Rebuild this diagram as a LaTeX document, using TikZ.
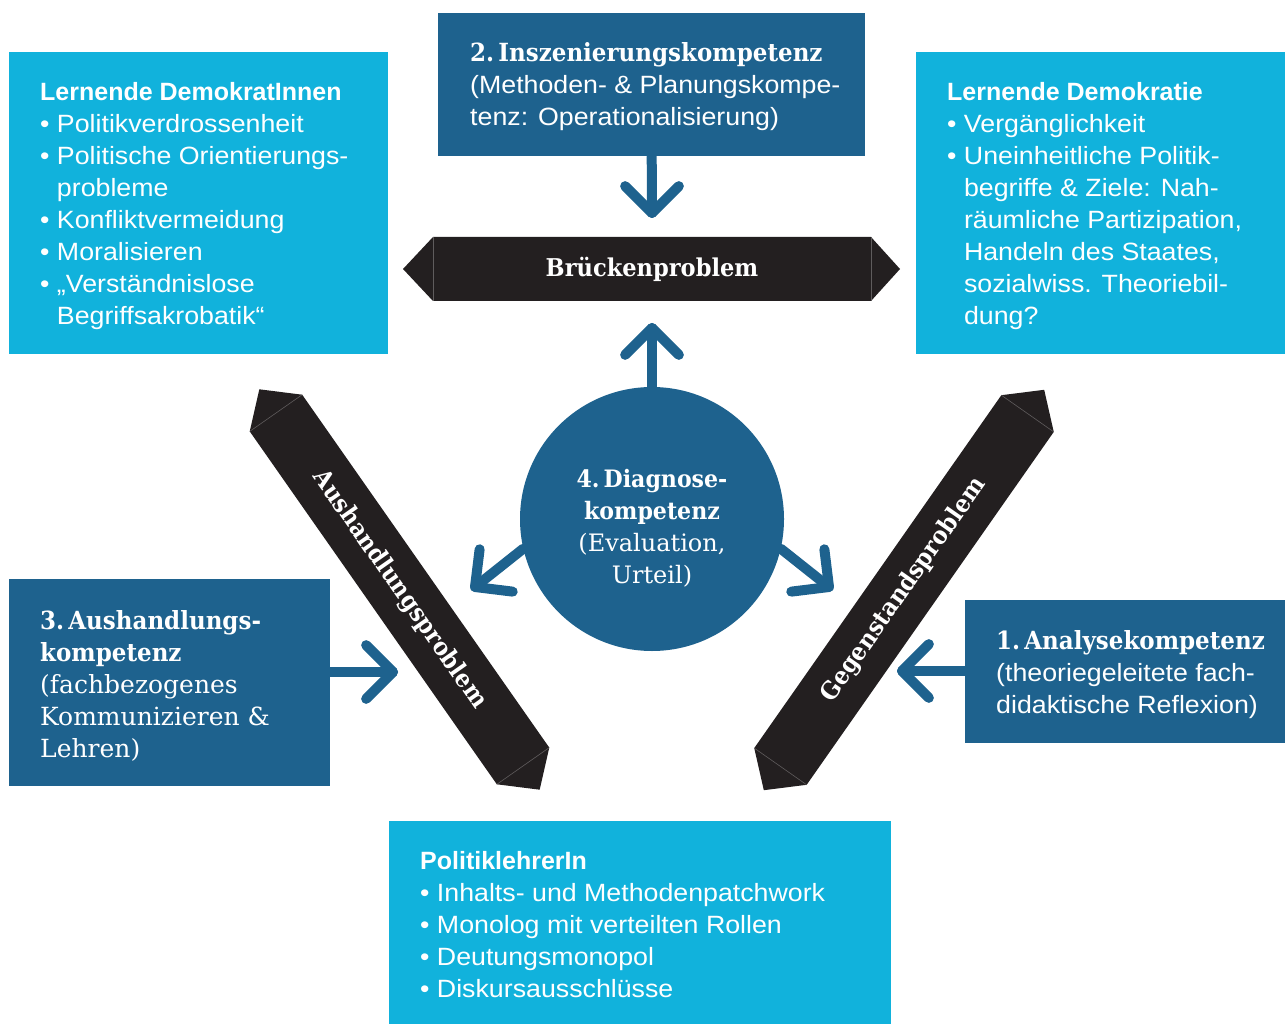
\documentclass[tikz,border=0pt]{standalone}
\usepackage{fontspec}
\setmainfont{Liberation Sans}[FakeStretch=1.07, BoldFeatures={FakeStretch=1.0}]
\newfontfamily\slab{DejaVu Serif}[BoldFeatures={FakeStretch=0.92}]
\usetikzlibrary{calc}

\definecolor{cyanbox}{RGB}{17,178,220}
\definecolor{navy}{RGB}{30,98,142}
\definecolor{ink}{RGB}{35,31,32}
\definecolor{foldgrey}{RGB}{95,92,93}

% chevron head: tip coordinate, direction pointing back along the shaft
\newcommand\drawchev[2]{%
  \draw[conn] ($(#1)+(#2+45:38)$) -- (#1) -- ($(#1)+(#2-45:38)$);}
\newcommand\bul{\textbullet\ }
\newcommand\ind{\phantom{\textbullet\ }}

\tikzset{
  lightbox/.style={fill=cyanbox, inner sep=0pt, anchor=north west},
  darkbox/.style={fill=navy, inner sep=0pt, anchor=north west},
  txt/.style={text=white, inner sep=0pt, anchor=west, align=left,
    font=\fontsize{25}{32}\selectfont},
  conn/.style={draw=navy, line width=10pt, line cap=round, line join=round},
  bar/.style={fill=ink},
  fold/.style={draw=foldgrey, line width=0.6pt},
  bartext/.style={text=white, inner sep=0pt,
    font=\slab\bfseries\fontsize{24.5}{28}\selectfont},
}

\begin{document}
\begin{tikzpicture}[x=1pt,y=-1pt]
\useasboundingbox (0,0) rectangle (1285,1024);

% ---------- boxes ----------
\node[lightbox, minimum width=379, minimum height=302] (demI) at (9,52) {};
\node[darkbox, minimum width=427, minimum height=143] (insz) at (438,13) {};
\node[lightbox, minimum width=369, minimum height=302] (demo) at (916,52) {};
\node[darkbox, minimum width=321, minimum height=207] (aush) at (9,579) {};
\node[darkbox, minimum width=320, minimum height=143] (anal) at (965,600) {};
\node[lightbox, minimum width=502, minimum height=203] (lehr) at (389,821) {};

\node[txt] (demIt) at ($(demI.west)+(31,2.5)$) {%
  \textbf{Lernende DemokratInnen}\\
  \bul Politikverdrossenheit\\
  \bul Politische Orientierungs-\\
  \ind probleme\\
  \bul Konfliktvermeidung\\
  \bul Moralisieren\\
  \bul „Verständnislose\\
  \ind Begriffsakrobatik“};

\node[txt] (demot) at ($(demo.west)+(31,2.5)$) {%
  \textbf{Lernende Demokratie}\\
  \bul Vergänglichkeit\\
  \bul Uneinheitliche Politik-\\
  \ind begriffe \& Ziele: Nah-\\
  \ind räumliche Partizipation,\\
  \ind Handeln des Staates,\\
  \ind sozialwiss. Theoriebil-\\
  \ind dung?};

\node[txt] (inszt) at ($(insz.west)+(32,2)$) {%
  {\slab\bfseries 2.\,Inszenierungskompetenz}\\
  (Methoden- \& Planungskompe-\\
  tenz: Operationalisierung)};

\node[txt] (ausht) at ($(aush.west)+(31,3)$) {%
  {\slab\bfseries 3.\,Aushandlungs-}\\
  {\slab\bfseries kompetenz}\\
  {\slab (fachbezogenes}\\
  {\slab Kommunizieren \&}\\
  {\slab Lehren)}};

\node[txt] (analt) at ($(anal.west)+(31,2.5)$) {%
  {\slab\bfseries 1.\,Analysekompetenz}\\
  (theoriegeleitete fach-\\
  didaktische Reflexion)};

\node[txt] (lehrt) at ($(lehr.west)+(31,2)$) {%
  \textbf{PolitiklehrerIn}\\
  \bul Inhalts- und Methodenpatchwork\\
  \bul Monolog mit verteilten Rollen\\
  \bul Deutungsmonopol\\
  \bul Diskursausschlüsse};

% ---------- problem bars ----------
\fill[bar] (403,269) -- (433,237) -- (871,237) -- (900,269) -- (871,301) -- (433,301) -- cycle;
\draw[fold] (433,237) -- (433,301);
\draw[fold] (871,237) -- (871,301);
\node[bartext] (bruecke) at (652,269) {Brückenproblem};

\begin{scope}[shift={(399.5,589.5)}, rotate=-55]
  \fill[bar] (-244.4,0) -- (-215.4,-32) -- (215.4,-32) -- (244.4,0) -- (215.4,32) -- (-215.4,32) -- cycle;
  \draw[fold] (-215.4,-32) -- (-215.4,32);
  \draw[fold] (215.4,-32) -- (215.4,32);
\end{scope}
\node[bartext, rotate=-55] (aushbar) at (399.5,589.5) {Aushandlungsproblem};

\begin{scope}[shift={(904,590)}, rotate=55]
  \fill[bar] (-244.4,0) -- (-215.4,-32) -- (215.4,-32) -- (244.4,0) -- (215.4,32) -- (-215.4,32) -- cycle;
  \draw[fold] (-215.4,-32) -- (-215.4,32);
  \draw[fold] (215.4,-32) -- (215.4,32);
\end{scope}
\node[bartext, rotate=55] (gegenbar) at (904,590) {Gegenstandsproblem};

% ---------- central circle ----------
\node[circle, fill=navy, minimum size=264, inner sep=0pt] (diag) at (652,519) {};
\node[text=white, align=center, inner sep=0pt,
      font=\slab\fontsize{24}{32}\selectfont] (diagt) at ($(diag.center)+(0,9)$) {%
  \textbf{4.\,Diagnose-}\\ \textbf{kompetenz}\\ (Evaluation,\\ Urteil)};

% ---------- connectors ----------
\coordinate (tipA) at (652,213);
\coordinate (tipB) at (652,328);
\coordinate (tipC) at (475,587);
\coordinate (tipD) at (829,587);
\coordinate (tipE) at (393,672);
\coordinate (tipF) at (902,671);

\draw[conn] (insz.south) -- (tipA);   \drawchev{tipA}{-90}
\draw[conn] (diag.north) -- (tipB);   \drawchev{tipB}{90}
\draw[conn] (diag.193) -- (tipC);     \drawchev{tipC}{-38}
\draw[conn] (diag.-13) -- (tipD);     \drawchev{tipD}{218}
\draw[conn] (aush.east |- tipE) -- (tipE); \drawchev{tipE}{180}
\draw[conn] (anal.west |- tipF) -- (tipF); \drawchev{tipF}{0}
\end{tikzpicture}
\end{document}
